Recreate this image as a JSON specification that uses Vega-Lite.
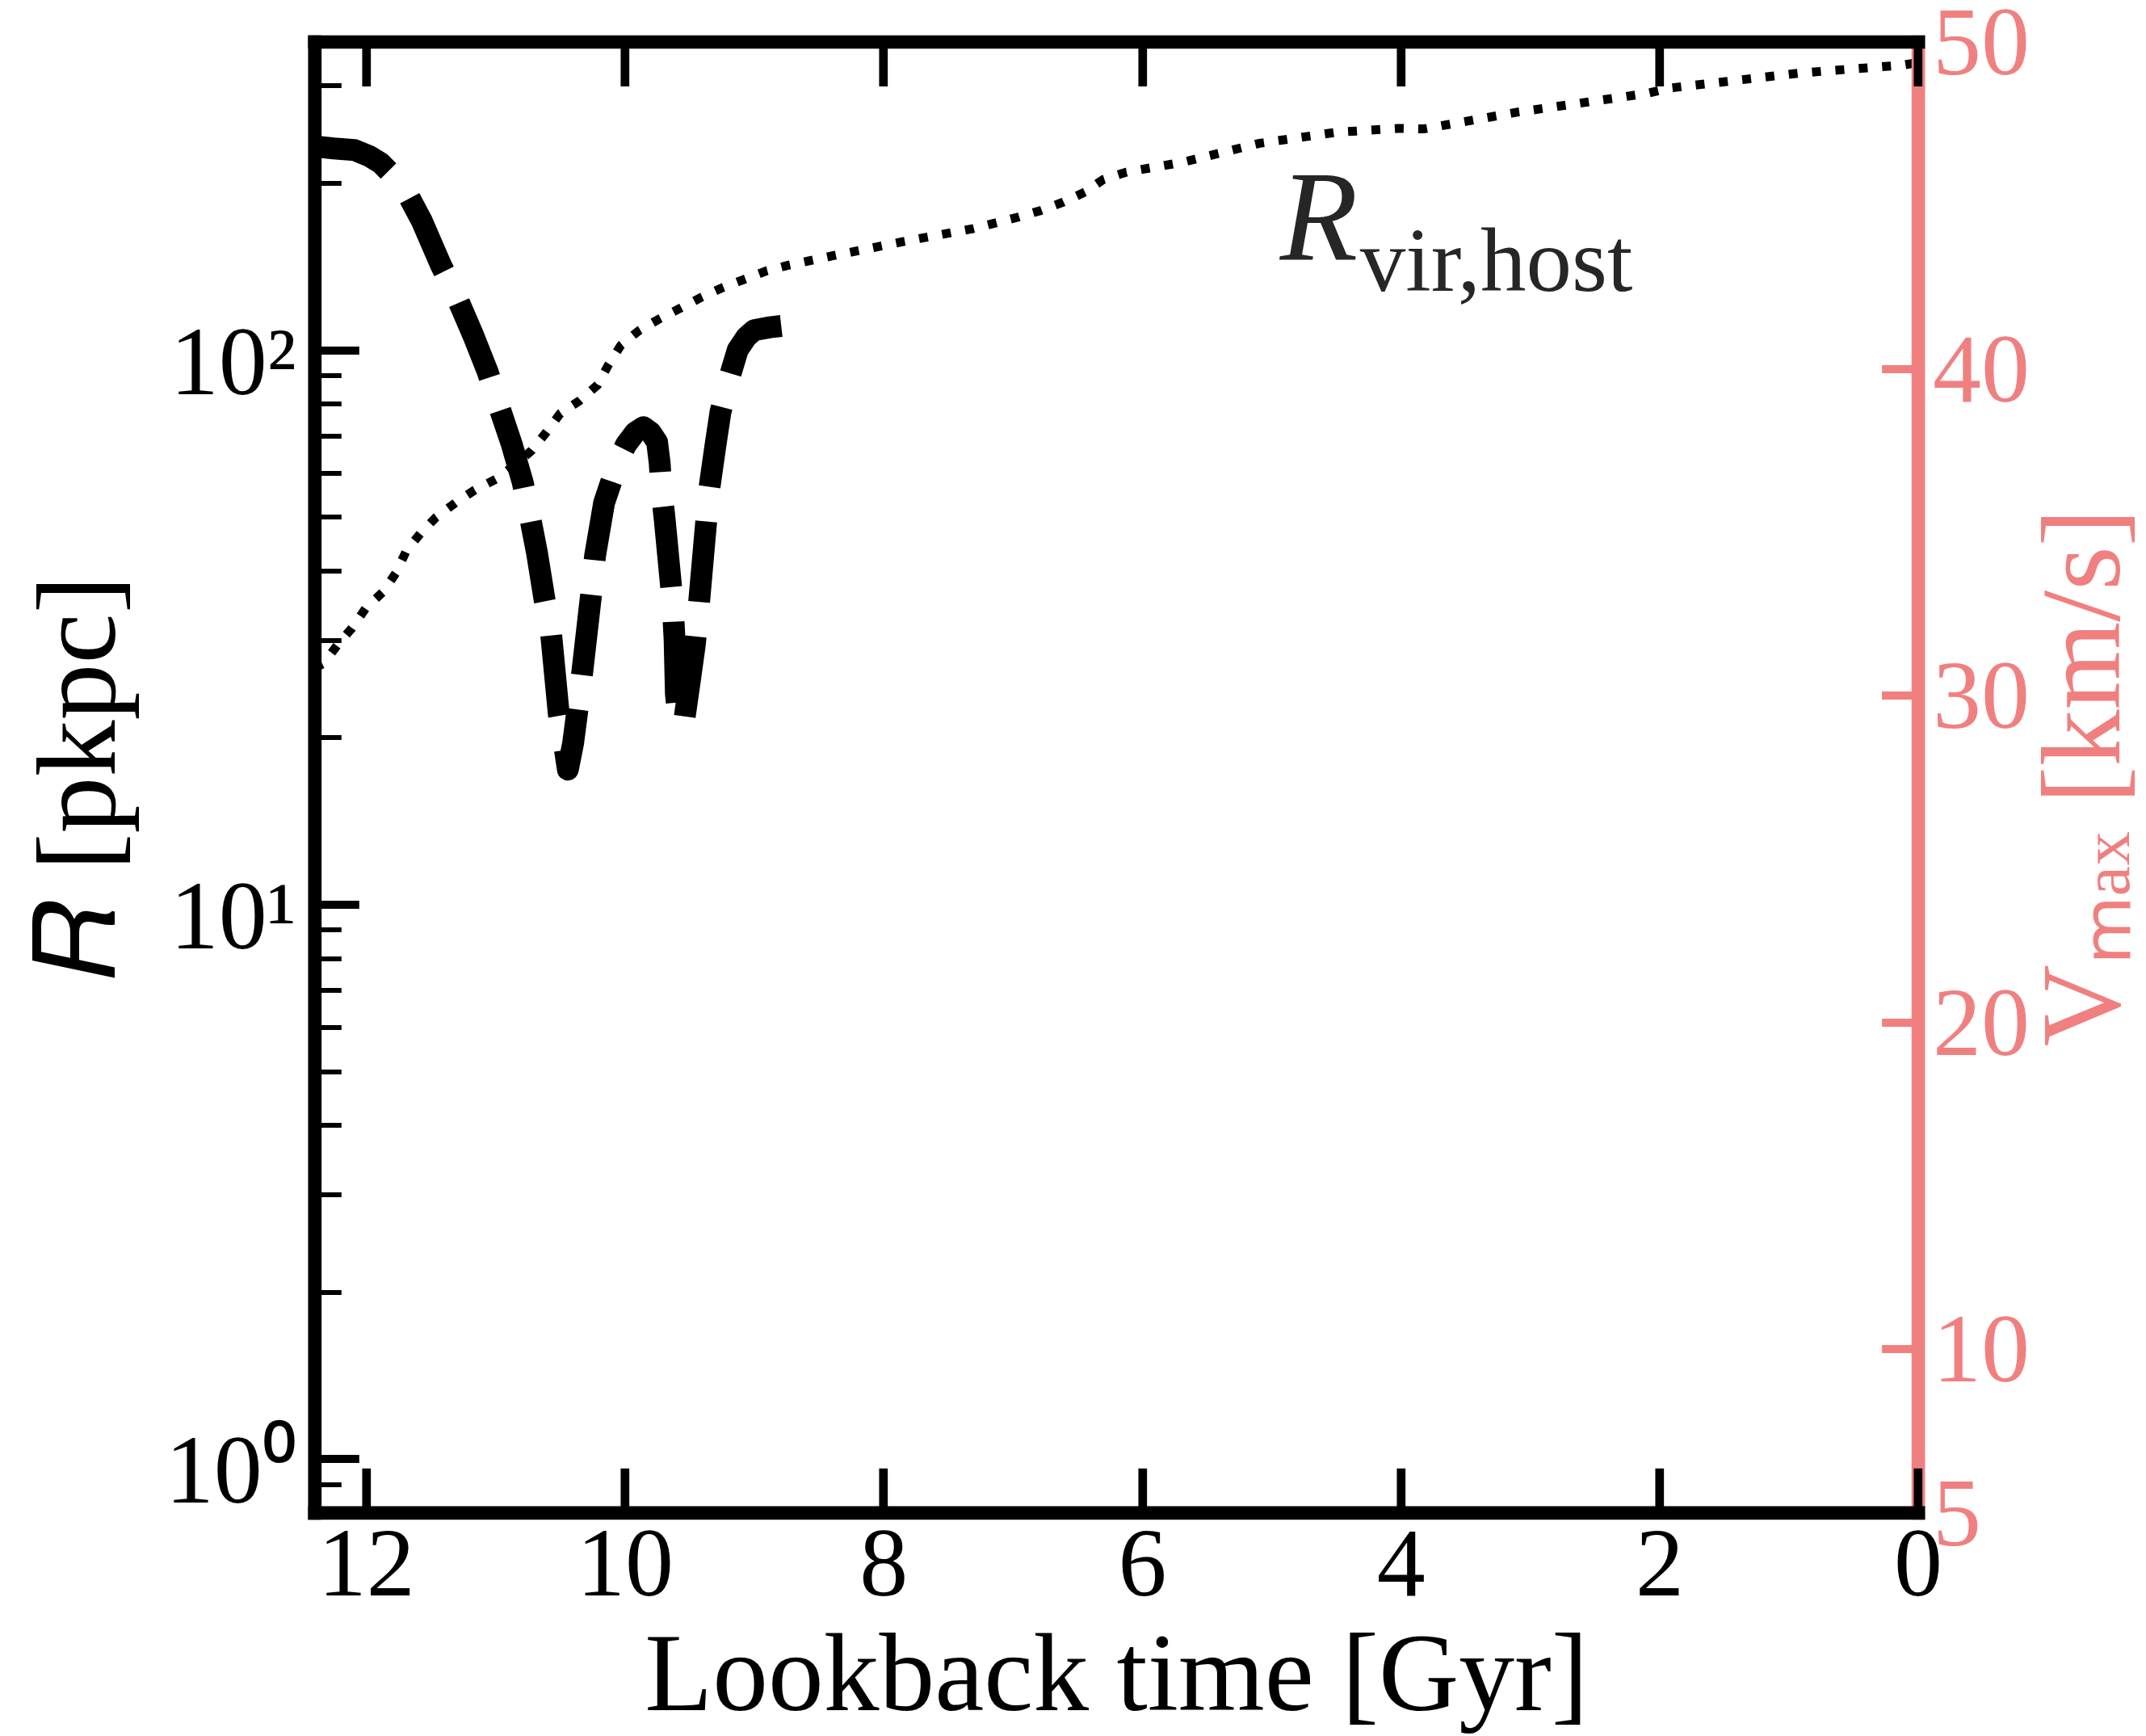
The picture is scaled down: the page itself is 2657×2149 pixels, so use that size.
{
  "$schema": "https://vega.github.io/schema/vega-lite/v6.json",
  "width": 1985.3,
  "height": 1820.8,
  "autosize": {"type": "none"},
  "padding": {"left": 389.3, "top": 51.5, "right": 282.4, "bottom": 276.7},
  "background": "white",
  "config": {
    "view": {"stroke": null},
    "font": "Liberation Serif",
    "axis": {"grid": false, "labelFont": "Liberation Serif", "titleFont": "Liberation Serif", "labelFlush": false, "labelOverlap": false, "labelBound": false, "titleFontWeight": "normal"}
  },
  "datasets": {
    "host": [
      {"t": 12.40, "R": 26.7}, {"t": 12.33, "R": 27.2}, {"t": 12.22, "R": 29.4}, {"t": 12.11, "R": 31.5},
      {"t": 12.00, "R": 34.3}, {"t": 11.87, "R": 36.6}, {"t": 11.77, "R": 39.6}, {"t": 11.69, "R": 43.4},
      {"t": 11.58, "R": 46.7}, {"t": 11.46, "R": 49.9}, {"t": 11.31, "R": 53.0}, {"t": 11.16, "R": 55.9},
      {"t": 10.99, "R": 58.6}, {"t": 10.85, "R": 62.0}, {"t": 10.72, "R": 65.9}, {"t": 10.61, "R": 70.9},
      {"t": 10.50, "R": 76.8}, {"t": 10.35, "R": 81.0}, {"t": 10.21, "R": 86.5}, {"t": 10.13, "R": 93.7},
      {"t": 10.03, "R": 102.0}, {"t": 9.89, "R": 108.4}, {"t": 9.73, "R": 113.9}, {"t": 9.57, "R": 119.0},
      {"t": 9.41, "R": 124.4}, {"t": 9.25, "R": 129.4}, {"t": 9.08, "R": 134.0}, {"t": 8.90, "R": 139.0},
      {"t": 8.73, "R": 142.3}, {"t": 8.38, "R": 148.1}, {"t": 7.84, "R": 157.0}, {"t": 7.31, "R": 165.5},
      {"t": 6.95, "R": 173.8}, {"t": 6.78, "R": 178.6}, {"t": 6.61, "R": 184.8}, {"t": 6.44, "R": 192.8},
      {"t": 6.30, "R": 203.0}, {"t": 6.12, "R": 209.4}, {"t": 5.69, "R": 218.0}, {"t": 5.09, "R": 236.0},
      {"t": 4.50, "R": 247.0}, {"t": 4.02, "R": 251.0}, {"t": 3.82, "R": 250.5}, {"t": 3.10, "R": 268.5},
      {"t": 2.105, "R": 290.0}, {"t": 1.91, "R": 297.0}, {"t": 0.91, "R": 316.0}, {"t": 0.115, "R": 326.6},
      {"t": 0.0, "R": 330.0}
    ],
    "sub": [
      {"t": 12.40, "R": 233}, {"t": 12.25, "R": 231}, {"t": 12.09, "R": 229.5}, {"t": 11.98, "R": 224},
      {"t": 11.89, "R": 217.6}, {"t": 11.78, "R": 205}, {"t": 11.69, "R": 193}, {"t": 11.57, "R": 171},
      {"t": 11.42, "R": 142}, {"t": 11.30, "R": 124.7}, {"t": 11.17, "R": 106}, {"t": 11.06, "R": 91.3},
      {"t": 10.975, "R": 79.4}, {"t": 10.875, "R": 67.7}, {"t": 10.79, "R": 57.8}, {"t": 10.73, "R": 49.6},
      {"t": 10.68, "R": 43.2}, {"t": 10.62, "R": 35.4}, {"t": 10.57, "R": 30.8}, {"t": 10.51, "R": 22},
      {"t": 10.47, "R": 19.5}, {"t": 10.44, "R": 17.5}, {"t": 10.40, "R": 19.5}, {"t": 10.36, "R": 23},
      {"t": 10.33, "R": 26.1}, {"t": 10.26, "R": 36.3}, {"t": 10.23, "R": 42.5}, {"t": 10.16, "R": 53},
      {"t": 10.095, "R": 58.8}, {"t": 10.04, "R": 64}, {"t": 9.99, "R": 67.5}, {"t": 9.92, "R": 71},
      {"t": 9.855, "R": 72.6}, {"t": 9.80, "R": 71}, {"t": 9.75, "R": 68.2}, {"t": 9.73, "R": 62.5},
      {"t": 9.72, "R": 57.1}, {"t": 9.69, "R": 49.1}, {"t": 9.63, "R": 35}, {"t": 9.615, "R": 30},
      {"t": 9.605, "R": 24}, {"t": 9.58, "R": 21}, {"t": 9.54, "R": 21.5}, {"t": 9.50, "R": 25},
      {"t": 9.46, "R": 29.2}, {"t": 9.43, "R": 34.1}, {"t": 9.375, "R": 47.7}, {"t": 9.35, "R": 55.4},
      {"t": 9.30, "R": 67}, {"t": 9.26, "R": 77.3}, {"t": 9.19, "R": 89.3}, {"t": 9.127, "R": 100},
      {"t": 9.06, "R": 105.5}, {"t": 9.00, "R": 108.6}, {"t": 8.877, "R": 109.9}, {"t": 8.79, "R": 110.5}
    ],
    "annot_main": [{"t": 4.933, "R": 145.1, "text": "R"}],
    "annot_sub": [{"t": 4.315, "R": 127.8, "text": "vir,host"}],
    "vmax_axis": [{"v": 5}]
  },
  "layer": [
    {
      "data": {"name": "host"},
      "mark": {"type": "line", "color": "black", "strokeWidth": 11, "strokeDash": [11, 18], "strokeCap": "butt", "clip": true},
      "encoding": {
        "x": {
          "field": "t", "type": "quantitative",
          "scale": {"domain": [0, 12.4], "reverse": true, "nice": false, "zero": false},
          "axis": {
            "orient": "bottom", "values": [0, 2, 4, 6, 8, 10, 12], "format": "d",
            "domainColor": "black", "domainWidth": 16.7, "domainCap": "square",
            "tickColor": "black", "tickSize": -55, "tickWidth": 10.7,
            "labelFontSize": 120, "labelColor": "black", "labelPadding": 62, "labelBaseline": "top",
            "title": "Lookback time [Gyr]", "titleFontSize": 137.5, "titleColor": "black", "titlePadding": 9,
            "zindex": 2
          }
        },
        "y": {
          "field": "R", "type": "quantitative",
          "scale": {"type": "log", "domain": [0.8, 360], "nice": false},
          "axis": {
            "orient": "left", "values": [1, 10, 100],
            "labelExpr": "datum.value == 1 ? '10⁰' : datum.value == 10 ? '10¹' : '10²'",
            "domainColor": "black", "domainWidth": 16.7, "domainCap": "square",
            "tickColor": "black", "tickSize": -55, "tickWidth": 10,
            "labelFontSize": 120, "labelColor": "black", "labelPadding": 78, "labelBaseline": "alphabetic", "labelOffset": 54,
            "title": "𝑅 [pkpc]", "titleFontSize": 140, "titleColor": "black", "titlePadding": 34,
            "zindex": 2
          }
        },
        "order": {"field": "t", "type": "quantitative", "sort": "descending"}
      }
    },
    {
      "data": {"name": "sub"},
      "mark": {"type": "line", "color": "black", "strokeWidth": 27, "strokeDash": [100, 43], "strokeCap": "butt", "strokeJoin": "round", "clip": true},
      "encoding": {
        "x": {
          "field": "t", "type": "quantitative",
          "scale": {"domain": [0, 12.4], "reverse": true, "nice": false, "zero": false},
          "axis": {
            "orient": "top", "values": [0, 2, 4, 6, 8, 10, 12], "labels": false, "title": null,
            "domainColor": "black", "domainWidth": 16.7, "domainCap": "square",
            "tickColor": "black", "tickSize": -55, "tickWidth": 10.7,
            "zindex": 2
          }
        },
        "y": {
          "field": "R", "type": "quantitative",
          "scale": {"type": "log", "domain": [0.8, 360], "nice": false},
          "axis": {
            "orient": "left", "values": [0.9, 2, 3, 4, 5, 6, 7, 8, 9, 20, 30, 40, 50, 60, 70, 80, 90, 200, 300],
            "labels": false, "title": null, "domain": false,
            "tickColor": "black", "tickSize": -33, "tickWidth": 6,
            "zindex": 2
          }
        },
        "order": {"field": "t", "type": "quantitative", "sort": "descending"}
      }
    },
    {
      "data": {"name": "vmax_axis"},
      "mark": {"type": "point", "opacity": 0},
      "encoding": {
        "y": {
          "field": "v", "type": "quantitative",
          "scale": {"domain": [5, 50], "nice": false, "zero": false},
          "axis": {
            "orient": "right", "values": [5, 10, 20, 30, 40, 50],
            "domainColor": "#F08080", "domainWidth": 16.7, "domainCap": "square",
            "tickColor": "#F08080", "tickSize": -45, "tickWidth": 10,
            "tickOpacity": {"condition": {"test": "datum.value === 5 || datum.value === 50", "value": 0}, "value": 1},
            "labelFontSize": 120, "labelColor": "#F08080", "labelPadding": 63, "labelBaseline": "middle", "labelOffset": 4,
            "title": "Vₘₐₓ [km/s]", "titleFontSize": 140, "titleColor": "#F08080", "titleAngle": 270, "titleBaseline": "top", "titlePadding": 0,
            "zindex": 1
          }
        }
      }
    },
    {
      "data": {"name": "annot_main"},
      "mark": {"type": "text", "font": "Liberation Serif", "fontStyle": "italic", "fontSize": 158, "align": "left", "baseline": "alphabetic", "color": "#262626"},
      "encoding": {
        "x": {"field": "t", "type": "quantitative", "scale": {"domain": [0, 12.4], "reverse": true, "nice": false, "zero": false}, "axis": null},
        "y": {"field": "R", "type": "quantitative", "scale": {"type": "log", "domain": [0.8, 360], "nice": false}, "axis": null},
        "text": {"field": "text"}
      }
    },
    {
      "data": {"name": "annot_sub"},
      "mark": {"type": "text", "font": "Liberation Serif", "fontSize": 113, "align": "left", "baseline": "alphabetic", "color": "#262626"},
      "encoding": {
        "x": {"field": "t", "type": "quantitative", "scale": {"domain": [0, 12.4], "reverse": true, "nice": false, "zero": false}, "axis": null},
        "y": {"field": "R", "type": "quantitative", "scale": {"type": "log", "domain": [0.8, 360], "nice": false}, "axis": null},
        "text": {"field": "text"}
      }
    }
  ],
  "resolve": {"scale": {"y": "independent"}, "axis": {"x": "independent", "y": "independent"}}
}
